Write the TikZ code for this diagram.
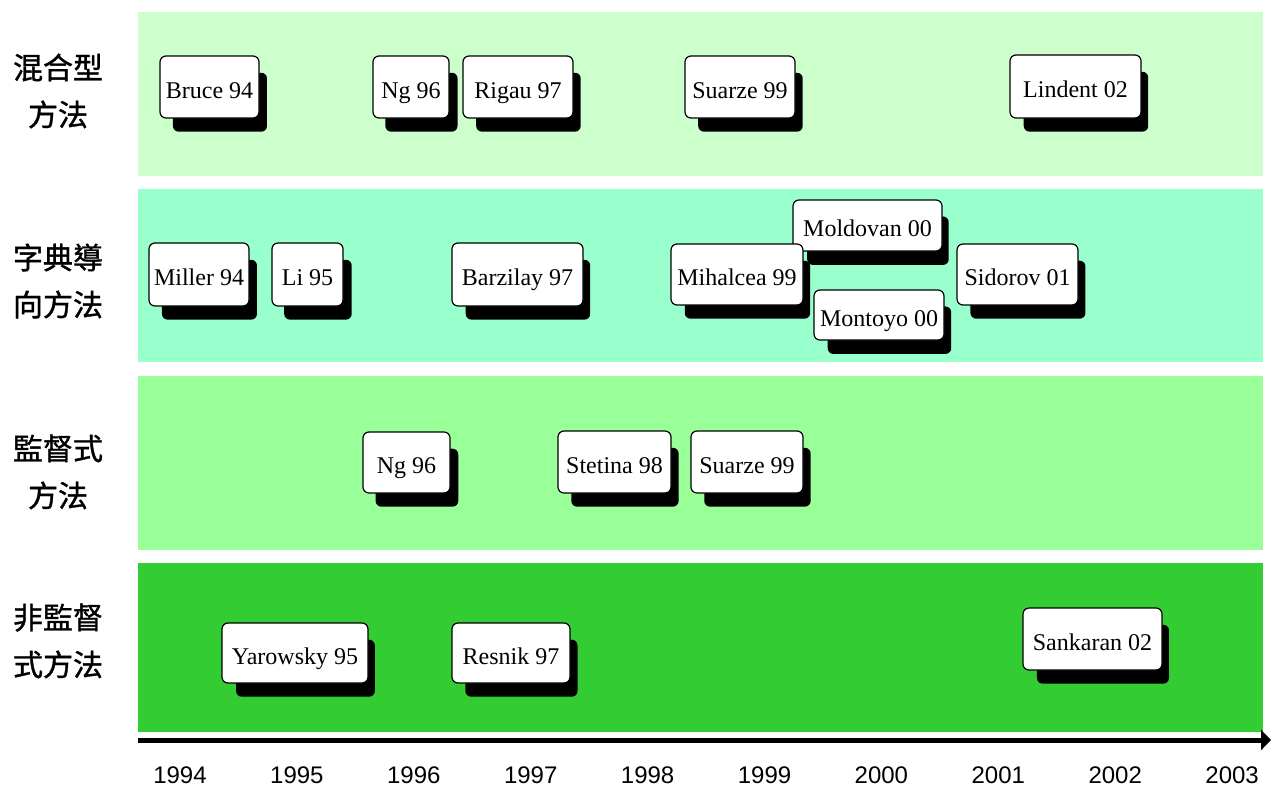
\documentclass[tikz,border=0pt]{standalone}
\usepackage{fontspec}
\setmainfont{Liberation Serif}
\newfontfamily\yearfont{Liberation Sans}
\newfontfamily\cjk{Noto Sans CJK TC}[FakeBold=1.2]
\usetikzlibrary{shadows,arrows.meta}
\definecolor{bandA}{HTML}{CCFFCC}
\definecolor{bandB}{HTML}{99FFCC}
\definecolor{bandC}{HTML}{99FF99}
\definecolor{bandD}{HTML}{33CC33}
\tikzset{
  paper/.style={draw=black, line width=1.2pt, fill=white, rounded corners=6pt,
    inner sep=0pt, text height=22pt, text depth=0pt,
    font=\fontsize{24}{28}\selectfont,
    drop shadow={shadow xshift=11pt, shadow yshift=-16pt, shadow scale=0.95,
      opacity=1, fill=black}},
  rowlabel/.style={align=center, font=\cjk\fontsize{30}{47}\selectfont},
  yearlabel/.style={font=\yearfont\fontsize{24}{28}\selectfont}
}
\begin{document}
\begin{tikzpicture}[x=1pt,y=-1pt]
\useasboundingbox[fill=white] (0,0) rectangle (1271,787);

% category bands
\fill[bandA] (138,12) rectangle (1263,176);
\fill[bandB] (138,189) rectangle (1263,362);
\fill[bandC] (138,376) rectangle (1263,550);
\fill[bandD] (138,563) rectangle (1263,732);

% category names
\node[rowlabel] (lh) at (58,91) {混合型\\方法};
\node[rowlabel] (ld) at (58,281) {字典導\\向方法};
\node[rowlabel] (ls) at (58,472) {監督式\\方法};
\node[rowlabel] (lu) at (58,641) {非監督\\式方法};

% hybrid methods
\node[paper, minimum width=99pt, minimum height=62pt] (h1) at (209.5,87) {Bruce 94};
\node[paper, minimum width=76pt, minimum height=62pt] (h2) at (411,87) {Ng 96};
\node[paper, minimum width=110pt, minimum height=62pt] (h3) at (518,87) {Rigau 97};
\node[paper, minimum width=110pt, minimum height=62pt] (h4) at (740,87) {Suarze 99};
\node[paper, minimum width=131pt, minimum height=63pt] (h5) at (1075.5,86.5) {Lindent 02};

% dictionary-based methods
\node[paper, minimum width=100pt, minimum height=63pt] (d1) at (199,274.5) {Miller 94};
\node[paper, minimum width=71pt, minimum height=63pt] (d2) at (307.5,274.5) {Li 95};
\node[paper, minimum width=131pt, minimum height=63pt] (d3) at (517.5,274.5) {Barzilay 97};
\node[paper, minimum width=149pt, minimum height=51pt] (d5) at (867.5,225.5) {Moldovan 00};
\node[paper, minimum width=132pt, minimum height=61pt] (d4) at (737,274.5) {Mihalcea 99};
\node[paper, minimum width=130pt, minimum height=50pt] (d6) at (879,315) {Montoyo 00};
\node[paper, minimum width=121pt, minimum height=61pt] (d7) at (1017.5,274.5) {Sidorov 01};

% supervised methods
\node[paper, minimum width=87pt, minimum height=61pt] (s1) at (406.5,462.5) {Ng 96};
\node[paper, minimum width=113pt, minimum height=62pt] (s2) at (614.5,462) {Stetina 98};
\node[paper, minimum width=112pt, minimum height=62pt] (s3) at (747,462) {Suarze 99};

% unsupervised methods
\node[paper, minimum width=146pt, minimum height=60pt] (u1) at (295,653) {Yarowsky 95};
\node[paper, minimum width=118pt, minimum height=60pt] (u2) at (511,653) {Resnik 97};
\node[paper, minimum width=139pt, minimum height=62pt] (u3) at (1092.5,639) {Sankaran 02};

% time axis
\coordinate (axs) at (138,740);
\coordinate (axe) at (1271,740);
\draw[line width=5pt, -{Triangle[length=10pt,width=20pt]}] (axs) -- (axe);

\foreach \yr [count=\i from 0] in {1994,...,2003}
  \node[yearlabel] (y\yr) at (180+116.9*\i,775) {\yr};
\end{tikzpicture}
\end{document}
